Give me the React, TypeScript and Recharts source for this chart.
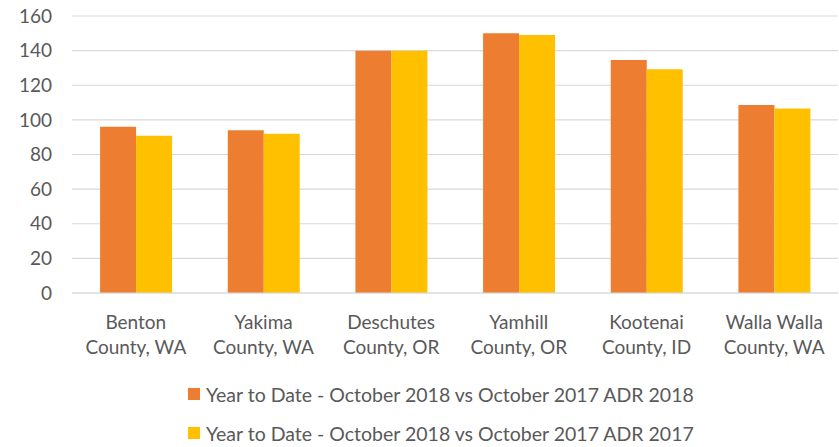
import React from "react";
import { BarChart, Bar, XAxis, YAxis, CartesianGrid, Legend } from "recharts";

const categories = [
  "Benton County, WA",
  "Yakima County, WA",
  "Deschutes County, OR",
  "Yamhill County, OR",
  "Kootenai County, ID",
  "Walla Walla County, WA",
];
const adr2018 = [96, 94, 140, 150, 134.6, 108.6];
const adr2017 = [90.8, 92, 140, 149, 129.3, 106.5];
const yTicks = [0, 20, 40, 60, 80, 100, 120, 140, 160];
const series2018 = "Year to Date - October 2018 vs October 2017 ADR 2018";
const series2017 = "Year to Date - October 2018 vs October 2017 ADR 2017";
const seriesOrder = [series2018, series2017];

const data = categories.map((c, i) => ({ name: c, a: adr2018[i], b: adr2017[i] }));

const FONT = "Lato, 'Open Sans', sans-serif";
const TEXT = "#595959";

const CatTick = (props: any) => {
  const { x, y, payload } = props;
  const s: string = payload.value;
  const idx = s.indexOf("County");
  const l1 = s.slice(0, idx).trim();
  const l2 = s.slice(idx);
  return (
    <text x={x} y={y} textAnchor="middle" fill={TEXT} fontSize={19} fontFamily={FONT}>
      <tspan x={x} y={y + 34}>{l1}</tspan>
      <tspan x={x} y={y + 59}>{l2}</tspan>
    </text>
  );
};

const LegendContent = (props: any) => {
  const items = [...(props.payload || [])].sort(
    (p: any, q: any) => seriesOrder.indexOf(p.value) - seriesOrder.indexOf(q.value)
  );
  return (
    <div style={{ position: "relative", width: 839, height: 82 }}>
      {items.map((it: any, i: number) => (
        <div
          key={i}
          style={{
            position: "absolute",
            left: 188,
            top: 18 + i * 39,
            height: 22,
            display: "flex",
            alignItems: "center",
            whiteSpace: "nowrap",
            fontFamily: FONT,
            fontSize: 19.5,
            color: TEXT,
          }}
        >
          <span style={{ display: "inline-block", width: 12, height: 12, background: it.color, marginRight: 6 }} />
          <span>{it.value}</span>
        </div>
      ))}
    </div>
  );
};

export default function App() {
  return (
    <div style={{ position: "absolute", left: 0, top: 0, width: 839, height: 447, background: "#fff" }}>
      <BarChart
        width={839}
        height={447}
        data={data}
        margin={{ top: 16, right: 1, bottom: 0, left: 0 }}
        barCategoryGap="22%"
        barGap={0}
      >
        <CartesianGrid vertical={false} stroke="#d9d9d9" strokeWidth={1.2} />
        <XAxis
          dataKey="name"
          axisLine={{ stroke: "#d9d9d9", strokeWidth: 1.2 }}
          tickLine={false}
          tickSize={0}
          height={72}
          interval={0}
          tick={<CatTick />}
        />
        <YAxis
          domain={[0, 160]}
          ticks={yTicks}
          width={72}
          axisLine={false}
          tickLine={false}
          tickSize={0}
          tickMargin={20}
          tick={{ fill: TEXT, fontSize: 19, fontFamily: FONT }}
        />
        <Legend
          verticalAlign="bottom"
          width={839}
          height={82}
          wrapperStyle={{ left: 0, bottom: 0 }}
          content={<LegendContent />}
        />
        <Bar dataKey="a" name={series2018} fill="#ED7D31" isAnimationActive={false} />
        <Bar dataKey="b" name={series2017} fill="#FFC000" isAnimationActive={false} />
      </BarChart>
    </div>
  );
}
